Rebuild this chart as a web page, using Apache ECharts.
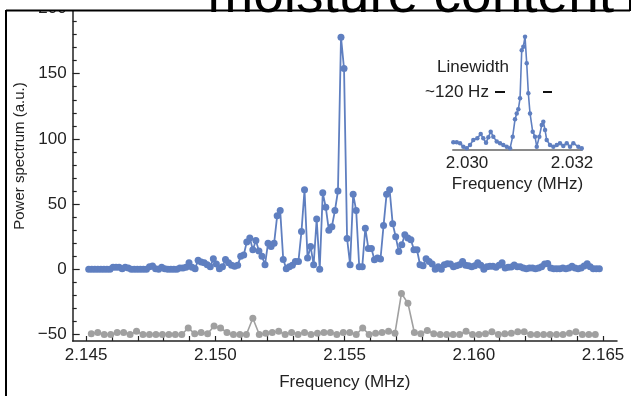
<!DOCTYPE html>
<html>
<head>
<meta charset="utf-8">
<script src="https://cdn.jsdelivr.net/npm/echarts@6/dist/echarts.min.js"></script>
<style>
  html, body { margin: 0; padding: 0; background: #fff; }
  #chart { width: 633px; height: 396px; }
</style>
</head>
<body>
<div id="chart"></div>
<script>
// ---------------- data ----------------
// main blue spectrum (evenly sampled)
const blueFreqStart = 2.1451;
const blueFreqStep = 0.0001176;
const blueValues = [
  0,0,0,0,0,0,0,0,
  1.5,1.5,1.5,0.5,1.5,1,0,0,
  0,0,0,0,2,2.5,0.5,0,
  1.5,0.5,0,0,0,0,1,1,
  1.5,5,1.5,0.5,7,5.5,5,3.5,
  2,8,4,0.5,2,7.5,5,3,
  2.3,3,10,11,21,24,15,22,
  14,10,3.5,20,17.5,20,41,45,
  7.5,0.5,2,3,6,6,29,61,
  8.6,17.5,3.5,38.6,0,58.6,47.5,30,
  32.7,45,60,178,154,23.6,3.5,57.6,
  45,2,2,31.5,16,16,7.4,8.6,
  7.9,33.5,57.6,61,35,25,13.7,18.8,
  26.4,24,22.6,15,15,3.5,2.8,8,
  6,4,0,2,0,3.5,4.3,4,
  2,2.8,3.5,6,3,2.8,2,2.8,
  5,3,0,2,2.3,2.3,1.5,3,
  5,1,1.5,1.8,3.3,2,2,1,
  0.5,1,1,0.5,1,2,4,4.5,
  1,0.5,0.5,0.5,1,0.5,1,2.3,
  1,0.5,1,2.5,4.3,2,0.5,0.5,0.5
];
// grey reference trace (offset by -50)
const grayFreqStart = 2.1452;
const grayFreqStep = 0.00025;
const grayValues = [
  -49.5,-48.5,-50,-50,-48.5,-48.5,-50,-47.5,-50,-50,
  -50,-50,-50,-50,-50,-45,-49.5,-48.5,-49.5,-43.5,
  -45,-48.5,-50,-50,-50,-37.5,-50,-49,-48.5,-47.5,
  -50,-48.5,-50,-48.5,-50,-49,-48.5,-48.5,-50,-48.5,
  -48.5,-50,-45,-50,-49,-48.5,-47.5,-49,-18.5,-26,
  -48.5,-49.5,-47,-49.5,-50,-50,-50,-50,-47.5,-50,
  -50,-49.5,-48,-50,-49.5,-49,-48,-48,-50,-50,
  -50,-50,-50,-50,-49,-48,-50,-50,-50
];
// inset (zoomed line)
const insetFreq = [
  2.029739,2.029804,2.029867,2.029930,2.029994,2.030057,2.030120,2.030196,
  2.030261,2.030310,2.030362,2.030406,2.030451,2.030501,2.030566,2.030629,
  2.030691,2.030756,2.030819,2.030870,2.030914,2.030947,2.030977,2.031010,
  2.031042,2.031072,2.031105,2.031137,2.031168,2.031200,2.031251,2.031295,
  2.031328,2.031377,2.031423,2.031453,2.031486,2.031518,2.031581,2.031644,
  2.031709,2.031771,2.031834,2.031899,2.031962,2.032025,2.032120,2.032185
];
const insetValues = [
  6.4,6.4,5.5,2.5,1,4,8.4,9.9,13.7,9.9,6,10.8,15.8,11.4,7,5.5,
  4,2.5,1,11.4,26.8,32,35.6,45.4,88,91,100,76.4,49.8,32,15.8,11.4,
  2.5,11.4,21.7,24.6,17.3,8.4,4,2.5,4,5.5,3,5.5,2.5,5.5,2.5,1
];
// ticks
const xTickLabels = [2.145, 2.150, 2.155, 2.160, 2.165];
const xTicks = [2.145,2.146,2.147,2.148,2.149,2.150,2.151,2.152,2.153,2.154,2.155,2.156,2.157,2.158,2.159,2.160,2.161,2.162,2.163,2.164,2.165];
const yTickLabels = [-50, 0, 50, 100, 150, 200];
const yMinorTicks = [-40,-30,-20,-10,10,20,30,40,60,70,80,90,110,120,130,140,160,170,180,190];
const insetTickLabels = [2.030, 2.032];

// ---------------- build ----------------
const blueData = blueValues.map((v, i) => [blueFreqStart + i * blueFreqStep, v]);
const grayData = grayValues.map((v, i) => [grayFreqStart + i * grayFreqStep, v]);
const insetData = insetValues.map((v, i) => [insetFreq[i], v]);

const FONT = "'Liberation Sans', Arial, Helvetica, sans-serif";
const TXT = '#222';
const BLUE = '#5f7fc0';
const GRAY = '#a0a0a0';
const fmtY = v => (v < 0 ? '\u2212' + Math.abs(v) : String(v));

const chart = echarts.init(document.getElementById('chart'), null, { renderer: 'canvas' });
chart.setOption({
  animation: false,
  backgroundColor: '#fff',
  grid: [
    { left: 72.7, right: 16, top: 7.2, bottom: 54 },
    { left: 453, right: 51, top: 36.7, bottom: 246.5 }
  ],
  xAxis: [
    {
      type: 'value', gridIndex: 0, min: 2.14448, max: 2.16554,
      axisLine: { onZero: false, lineStyle: { color: '#222', width: 1.5 } },
      axisTick: { inside: true, length: 5, customValues: xTicks, lineStyle: { color: '#222', width: 1.2 } },
      axisLabel: { customValues: xTickLabels, formatter: v => v.toFixed(3), fontSize: 17, color: TXT, margin: 6, fontFamily: FONT },
      splitLine: { show: false },
      name: 'Frequency (MHz)', nameLocation: 'middle', nameGap: 33,
      nameTextStyle: { fontSize: 17, color: TXT, fontFamily: FONT }
    },
    {
      type: 'value', gridIndex: 1, min: 2.029733, max: 2.03219,
      axisLine: { onZero: false, lineStyle: { color: '#8a8a8a', width: 2 } },
      axisTick: { show: false },
      axisLabel: { customValues: insetTickLabels, formatter: v => v.toFixed(3), fontSize: 17, color: TXT, margin: 5, fontFamily: FONT },
      splitLine: { show: false },
      name: 'Frequency (MHz)', nameLocation: 'middle', nameGap: 26,
      nameTextStyle: { fontSize: 17, color: TXT, fontFamily: FONT }
    }
  ],
  yAxis: [
    {
      type: 'value', gridIndex: 0, min: -55, max: 200, position: 'left',
      axisLine: { onZero: false, lineStyle: { color: '#222', width: 1.5 } },
      axisTick: { inside: true, length: 7, customValues: yTickLabels, lineStyle: { color: '#222', width: 1.2 } },
      axisLabel: { customValues: yTickLabels, formatter: fmtY, fontSize: 17, color: TXT, margin: 6, fontFamily: FONT },
      splitLine: { show: false }
    },
    {
      type: 'value', gridIndex: 0, min: -55, max: 200, position: 'left',
      axisLine: { show: false, onZero: false },
      axisTick: { inside: true, length: 4, customValues: yMinorTicks, lineStyle: { color: '#222', width: 1.2 } },
      axisLabel: { show: false },
      splitLine: { show: false }
    },
    {
      type: 'value', gridIndex: 1, min: 0, max: 100, show: false
    }
  ],
  series: [
    {
      type: 'line', xAxisIndex: 0, yAxisIndex: 0, data: grayData,
      symbol: 'circle', symbolSize: 7, showAllSymbol: true, clip: false,
      lineStyle: { color: GRAY, width: 1.6 }, itemStyle: { color: GRAY }
    },
    {
      type: 'line', xAxisIndex: 0, yAxisIndex: 0, data: blueData,
      symbol: 'circle', symbolSize: 7, showAllSymbol: true, clip: false,
      lineStyle: { color: BLUE, width: 1.8 }, itemStyle: { color: BLUE }
    },
    {
      type: 'line', xAxisIndex: 1, yAxisIndex: 2, data: insetData,
      symbol: 'circle', symbolSize: 4.5, showAllSymbol: true, clip: false,
      lineStyle: { color: BLUE, width: 1.6 }, itemStyle: { color: BLUE }
    }
  ],
  graphic: [
    { type: 'text', x: 20, y: 156, rotation: Math.PI / 2,
      style: { text: 'Power spectrum (a.u.)', font: '15px ' + FONT, fill: TXT, align: 'center', verticalAlign: 'middle' } },
    { type: 'text', x: 473, y: 67,
      style: { text: 'Linewidth', font: '17px ' + FONT, fill: TXT, align: 'center', verticalAlign: 'middle' } },
    { type: 'text', x: 457, y: 92,
      style: { text: '~120 Hz', font: '17px ' + FONT, fill: TXT, align: 'center', verticalAlign: 'middle' } },
    { type: 'line', shape: { x1: 495, y1: 92, x2: 505, y2: 92 }, style: { stroke: '#111', lineWidth: 2 } },
    { type: 'line', shape: { x1: 543, y1: 92, x2: 552, y2: 92 }, style: { stroke: '#111', lineWidth: 2 } },
    // slide overlay: title box clipping the top of the figure
    { type: 'rect', z: 100, shape: { x: 0, y: 0, width: 633, height: 10 }, style: { fill: '#fff' } },
    { type: 'text', z: 101, x: 614, y: 24,
      style: { text: 'moisture content', font: '55px ' + FONT, fill: '#000', align: 'right', verticalAlign: 'bottom' } },
    { type: 'line', z: 103, shape: { x1: 6, y1: 10.5, x2: 630, y2: 10.5 }, style: { stroke: '#000', lineWidth: 2 } },
    { type: 'line', z: 103, shape: { x1: 6, y1: 10, x2: 6, y2: 396 }, style: { stroke: '#000', lineWidth: 2 } },
    { type: 'line', z: 103, shape: { x1: 630, y1: 0, x2: 630, y2: 11 }, style: { stroke: '#000', lineWidth: 2 } }
  ]
});
</script>
</body>
</html>
